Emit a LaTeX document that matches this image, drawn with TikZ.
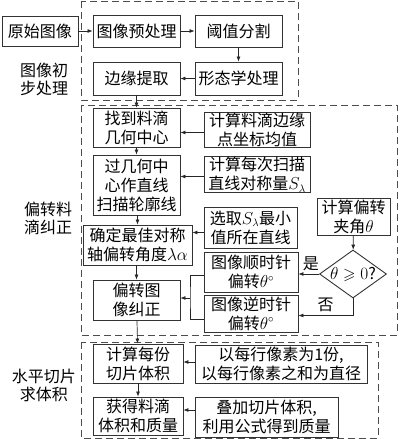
\documentclass[tikz,border=0pt]{standalone}
\usepackage{amssymb}
\usepackage{fontspec}
\setmainfont{Noto Sans CJK SC}
\usetikzlibrary{arrows.meta,shapes.geometric}
\begin{document}
\begin{tikzpicture}[x=1pt,y=-1pt,
 box/.style={draw=black!80, line width=0.9pt, inner sep=0pt, align=center, font=\fontsize{16}{19}\selectfont},
 lab/.style={inner sep=0pt, align=center, font=\fontsize{16}{18}\selectfont},
 arr/.style={-{Latex[length=5pt,width=4pt]}, line width=0.7pt, draw=black!85},
 ln/.style={line width=0.7pt, draw=black!85},
 grp/.style={draw=black!70, line width=0.8pt, dash pattern=on 7pt off 4pt}]
\useasboundingbox (0,0) rectangle (400,439);
% groups
\draw[grp] (81,1) rectangle (298,100);
\draw[grp] (81,105) rectangle (397,335);
\draw[grp] (81,342) rectangle (378,438);
% labels
\node[lab] (l1) at (44,79) {图像初\\步处理};
\node[lab] (l2) at (48,218) {偏转料\\滴纠正};
\node[lab] (l3) at (44,385) {水平切片\\求体积};
% group 1
\node[box, minimum width=76, minimum height=30] (orig) at (40,31) {原始图像};
\node[box, minimum width=87, minimum height=32] (pre) at (136.5,31) {图像预处理};
\node[box, minimum width=87, minimum height=32] (thr) at (238.5,31) {阈值分割};
\node[box, minimum width=87, minimum height=33] (morph) at (238.5,78.5) {形态学处理};
\node[box, minimum width=87, minimum height=33] (edge) at (136.5,78.5) {边缘提取};
% group 2
\node[box, minimum width=87, minimum height=39] (center) at (136.5,127.5) {找到料滴\\几何中心};
\node[box, minimum width=106, minimum height=35] (mean) at (257,129.5) {计算料滴边缘\\点坐标均值};
\node[box, minimum width=87, minimum height=60] (scan) at (136.5,185) {过几何中\\心作直线\\扫描轮廓线};
\node[box, minimum width=106, minimum height=35] (sym) at (257,174.5) {计算每次扫描\\直线对称量$S_\lambda$};
\node[box, minimum width=93, minimum height=41] (select) at (250.5,227.5) {选取$S_\lambda$最小\\值所在直线};
\node[box, minimum width=73, minimum height=37] (angle) at (353.5,216.5) {计算偏转\\夹角$\theta$};
\node[box, minimum width=109, minimum height=40] (best) at (137.5,245) {确定最佳对称\\轴偏转角度$\lambda\alpha$};
\node[box, minimum width=94, minimum height=40] (clock) at (251,272) {图像顺时针\\偏转$\theta^\circ$};
\node[box, minimum width=94, minimum height=37] (counter) at (251,313.5) {图像逆时针\\偏转$\theta^\circ$};
\node[box, minimum width=87, minimum height=40] (correct) at (136.5,300) {偏转图\\像纠正};
\node[box, diamond, aspect=1.4, minimum width=67, minimum height=48, inner sep=-1pt] (dia) at (353,274) {$\theta\geqslant 0$?};
% group 3
\node[box, minimum width=90, minimum height=39] (slice) at (138,363.5) {计算每份\\切片体积};
\node[box, minimum width=90, minimum height=38] (obtain) at (138,416) {获得料滴\\体积和质量};
\node[box, minimum width=172, minimum height=38] (pix) at (281,364) {以每行像素为1份,\\以每行像素之和为直径};
\node[box, minimum width=143, minimum height=40] (sum) at (266.5,417) {叠加切片体积,\\利用公式得到质量};
% arrows group 1
\draw[arr] (orig) -- (pre);
\draw[arr] (pre) -- (thr);
\draw[arr] (thr) -- (morph);
\draw[arr] (morph) -- (edge);
\draw[arr] (edge) -- (center);
% arrows group 2
\draw[arr] ([yshift=-3pt]mean.west) -- ([yshift=-3pt]mean.west -| center.east);
\draw[arr] ([yshift=-2pt]sym.west) -- ([yshift=-2pt]sym.west -| scan.east);
\draw[arr] (center) -- (scan);
\draw[arr] (scan.south -| best.north) -- (best.north);
\draw[arr] ([yshift=-5pt]select.west) -- ([yshift=-5pt]select.west -| best.east);
\draw[arr] (best.south -| correct.north) -- (correct.north);
\draw[arr] (angle) -- (dia);
\draw[arr] (dia.west) -- (dia.west -| clock.east) node[lab, pos=0.4, above=3pt] (yes) {是};
\draw[arr] (dia.south) |- ([yshift=-2pt]counter.east) node[lab, pos=0.75, above=3pt] (no) {否};
\coordinate (j) at (190,298);
\draw[ln] ([yshift=-3pt]clock.west) -| (j) |- ([yshift=-6pt]counter.west);
\draw[arr] (j) -- (j -| correct.east);
\draw[arr] (correct) -- (slice);
% arrows group 3
\draw[arr] ([yshift=2pt]pix.west) -- ([yshift=2pt]pix.west -| slice.east);
\draw[arr] ([yshift=7pt]sum.west) -- ([yshift=7pt]sum.west -| obtain.east);
\draw[arr] (slice) -- (obtain);
\end{tikzpicture}
\end{document}
